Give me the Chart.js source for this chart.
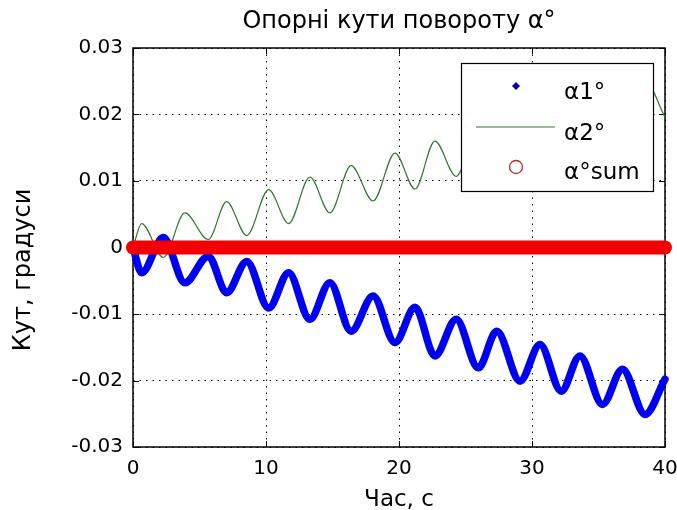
<!DOCTYPE html>
<html><head><meta charset="utf-8">
<script src="https://cdn.jsdelivr.net/npm/chart.js@4/dist/chart.umd.min.js"></script>
<style>html,body{margin:0;padding:0;background:#fff}#wrap{width:677px;height:510px}</style>
</head><body><div id="wrap"><canvas id="c" width="677" height="510"></canvas></div>
<script>
const times    = [0, 0.65, 2.28, 3.9, 5.66, 7.04, 8.55, 10.2, 11.7, 13.3, 14.8, 16.4, 18.05, 19.7, 21.2, 22.7, 24.3, 25.96, 27.35, 29.1, 30.6, 32.2, 33.6, 35.3, 36.8, 38.5, 40];
const alpha1   = [0, -0.0038, 0.0015, -0.0053, -0.0013, -0.0068, -0.0021, -0.0091, -0.0038, -0.0108, -0.0053, -0.0126, -0.0073, -0.0143, -0.0090, -0.0163, -0.0108, -0.0181, -0.0126, -0.0201, -0.0146, -0.0216, -0.0163, -0.0236, -0.0183, -0.0251, -0.0198];
const alpha2   = [0, 0.0036, -0.0015, 0.0052, 0.0012, 0.0069, 0.0018, 0.0087, 0.0036, 0.0106, 0.0052, 0.0123, 0.0070, 0.0142, 0.0088, 0.0160, 0.0107, 0.0180, 0.0125, 0.0200, 0.0145, 0.0215, 0.0162, 0.0235, 0.0182, 0.0250, 0.0196];
const alphaSum = [0, 0, 0, 0, 0, 0, 0, 0, 0, 0, 0, 0, 0, 0, 0, 0, 0, 0, 0, 0, 0, 0, 0, 0, 0, 0, 0];
const xTicks = [0, 10, 20, 30, 40];
const yTickLabels = ['-0.03', '-0.02', '-0.01', '0', '0.01', '0.02', '0.03'];
const seriesNames = ['α1°', 'α2°', 'α°sum'];
const titleText = 'Опорні кути повороту α°';
const xLabel = 'Час, с';
const yLabel = 'Кут, градуси';

const FONT = "'DejaVu Sans', sans-serif";
const yTickValues = yTickLabels.map(parseFloat);
const pts = arr => times.map((t, i) => ({x: t, y: arr[i]}));

const framePlugin = {
  id: 'frame',
  beforeDatasetsDraw(chart) {
    const {ctx, chartArea: a, scales} = chart;
    ctx.save();
    ctx.strokeStyle = '#000';
    ctx.lineWidth = 1;
    ctx.beginPath();
    xTicks.forEach(v => {
      const px = Math.round(scales.x.getPixelForValue(v)) + 0.5;
      ctx.moveTo(px, a.bottom); ctx.lineTo(px, a.bottom - 6);
      ctx.moveTo(px, a.top); ctx.lineTo(px, a.top + 6);
    });
    yTickValues.forEach(v => {
      const py = Math.round(scales.y.getPixelForValue(v)) + 0.5;
      ctx.moveTo(a.left, py); ctx.lineTo(a.left + 6, py);
      ctx.moveTo(a.right, py); ctx.lineTo(a.right - 6, py);
    });
    ctx.stroke();
    ctx.lineWidth = 1.5;
    ctx.strokeRect(a.left, a.top, a.right - a.left, a.bottom - a.top);
    ctx.restore();
  },
  afterDatasetsDraw(chart) {
    const {ctx} = chart;
    ctx.save();
    const bx = 461, by = 63, bw = 192, bh = 128;
    ctx.fillStyle = '#fff';
    ctx.fillRect(bx, by, bw, bh);
    ctx.strokeStyle = '#000';
    ctx.lineWidth = 1.2;
    ctx.strokeRect(bx + 0.5, by + 0.5, bw, bh);
    ctx.fillStyle = '#0000a0';
    ctx.beginPath();
    ctx.moveTo(516, 82); ctx.lineTo(520, 86); ctx.lineTo(516, 90); ctx.lineTo(512, 86); ctx.closePath();
    ctx.fill();
    ctx.strokeStyle = '#2f7a2f';
    ctx.lineWidth = 1.2;
    ctx.beginPath(); ctx.moveTo(476, 127); ctx.lineTo(555, 127); ctx.stroke();
    ctx.strokeStyle = '#b03030';
    ctx.lineWidth = 1.3;
    ctx.beginPath(); ctx.arc(516, 167, 6.5, 0, Math.PI * 2); ctx.stroke();
    ctx.fillStyle = '#000';
    ctx.font = '23px ' + FONT;
    ctx.textAlign = 'left';
    ctx.textBaseline = 'alphabetic';
    ctx.fillText(seriesNames[0], 564, 99);
    ctx.fillText(seriesNames[1], 564, 140);
    ctx.fillText(seriesNames[2], 564, 179);
    ctx.restore();
  },
  afterDraw(chart) {
    const {ctx} = chart;
    ctx.save();
    ctx.translate(30, 270);
    ctx.rotate(-Math.PI / 2);
    ctx.fillStyle = '#000';
    ctx.font = '24px ' + FONT;
    ctx.textAlign = 'center';
    ctx.textBaseline = 'alphabetic';
    ctx.fillText(yLabel, 0, 0);
    ctx.restore();
  }
};

new Chart(document.getElementById('c'), {
  type: 'line',
  data: {
    datasets: [
      {
        label: seriesNames[2], data: pts(alphaSum), order: 0,
        borderColor: '#f00000', backgroundColor: '#f00000', borderWidth: 14,
        borderCapStyle: 'round', pointRadius: 0, fill: false, clip: false
      },
      {
        label: seriesNames[0], data: pts(alpha1), order: 1,
        borderColor: '#0000f0', backgroundColor: '#0000f0', borderWidth: 7.5,
        borderCapStyle: 'round', borderJoinStyle: 'round',
        cubicInterpolationMode: 'monotone', pointRadius: 0, fill: false, clip: false
      },
      {
        label: seriesNames[1], data: pts(alpha2), order: 2,
        borderColor: '#2f7a2f', backgroundColor: '#2f7a2f', borderWidth: 1.2,
        cubicInterpolationMode: 'monotone', pointRadius: 0, fill: false, clip: false
      }
    ]
  },
  options: {
    responsive: false,
    animation: false,
    events: [],
    layout: {padding: {left: 0, right: 12, top: 0, bottom: 0}, autoPadding: false},
    plugins: {
      legend: {display: false},
      tooltip: {enabled: false},
      title: {
        display: true, text: titleText, fullSize: false, color: '#000',
        font: {family: FONT, size: 24, weight: 'normal'},
        padding: {top: 7, bottom: 12.2}
      }
    },
    scales: {
      x: {
        type: 'linear', min: 0, max: 40,
        afterFit: s => { s.height = 63; s.paddingLeft = 0; s.paddingRight = 0; },
        afterBuildTicks: s => { s.ticks = xTicks.map(v => ({value: v})); },
        ticks: {color: '#000', padding: 10, font: {family: FONT, size: 20}, maxRotation: 0, autoSkip: false},
        grid: {color: '#000', lineWidth: 1, drawTicks: false},
        border: {display: false, dash: [1.5, 5]},
        title: {display: true, text: xLabel, color: '#000', font: {family: FONT, size: 23}, padding: {top: 0, bottom: -4}}
      },
      y: {
        type: 'linear', min: -0.03, max: 0.03,
        afterFit: s => { s.width = 133; s.paddingTop = 0; s.paddingBottom = 0; },
        afterBuildTicks: s => { s.ticks = yTickValues.map(v => ({value: v})); },
        ticks: {
          color: '#000', padding: 10, font: {family: FONT, size: 20}, autoSkip: false,
          callback: (v) => yTickLabels[Math.round((v - yTickValues[0]) / 0.01)]
        },
        grid: {color: '#000', lineWidth: 1, drawTicks: false},
        border: {display: false, dash: [1.5, 5]}
      }
    }
  },
  plugins: [framePlugin]
});
</script>
</body></html>
